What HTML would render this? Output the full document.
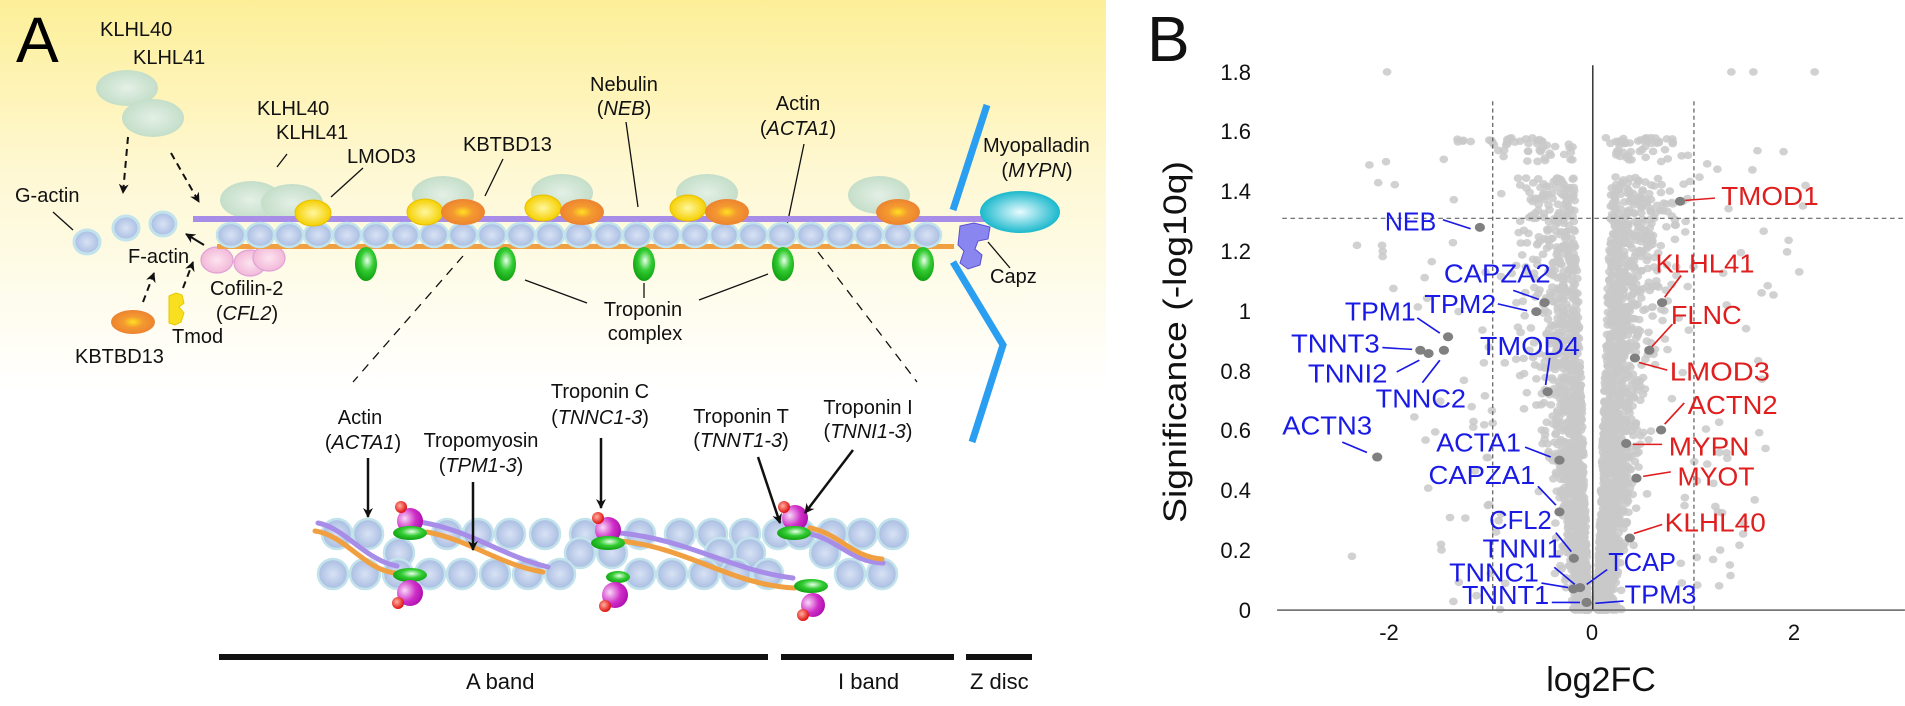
<!DOCTYPE html>
<html><head><meta charset="utf-8"><style>
html,body{margin:0;padding:0;background:#fff;width:1905px;height:706px;overflow:hidden}
svg{display:block}
text{font-family:"Liberation Sans",Arial,sans-serif}
</style></head><body>
<svg id="s" width="1905" height="706" viewBox="0 0 1905 706" xmlns="http://www.w3.org/2000/svg">
<defs>
<linearGradient id="bg" x1="0" y1="0" x2="0" y2="1">
<stop offset="0" stop-color="#fdef98"/><stop offset="0.45" stop-color="#fef8d4"/><stop offset="1" stop-color="#ffffff"/></linearGradient>
<radialGradient id="bead" cx="0.5" cy="0.5" r="0.5"><stop offset="0" stop-color="#d8e2f4"/><stop offset="1" stop-color="#a9bde2"/></radialGradient>
<radialGradient id="grn" cx="0.5" cy="0.5" r="0.5"><stop offset="0" stop-color="#e4f0e6"/><stop offset="1" stop-color="#c4dec9"/></radialGradient>
<radialGradient id="yel" cx="0.5" cy="0.5" r="0.5"><stop offset="0" stop-color="#fff7a0"/><stop offset="1" stop-color="#f5d000"/></radialGradient>
<radialGradient id="org" cx="0.5" cy="0.5" r="0.5"><stop offset="0" stop-color="#ffe020"/><stop offset="0.45" stop-color="#f49a30"/><stop offset="1" stop-color="#ec8330"/></radialGradient>
<radialGradient id="tn" cx="0.55" cy="0.4" r="0.6"><stop offset="0" stop-color="#e8ffe8"/><stop offset="0.5" stop-color="#33cc33"/><stop offset="1" stop-color="#10a010"/></radialGradient>
<radialGradient id="cy" cx="0.5" cy="0.5" r="0.5"><stop offset="0" stop-color="#e8fbff"/><stop offset="1" stop-color="#1ab8cc"/></radialGradient>
<radialGradient id="pk" cx="0.5" cy="0.5" r="0.5"><stop offset="0" stop-color="#fde4f0"/><stop offset="1" stop-color="#f2b8d8"/></radialGradient>
<radialGradient id="mg" cx="0.3" cy="0.4" r="0.7"><stop offset="0" stop-color="#f8d8f8"/><stop offset="0.6" stop-color="#d030c8"/><stop offset="1" stop-color="#b010b0"/></radialGradient>
<radialGradient id="rd" cx="0.4" cy="0.4" r="0.6"><stop offset="0" stop-color="#ffb0a0"/><stop offset="1" stop-color="#e01010"/></radialGradient>
<marker id="ah" viewBox="0 0 10 10" refX="9" refY="5" markerWidth="5" markerHeight="5" orient="auto"><path d="M0,0 L10,5 L0,10 L3,5 z" fill="#111"/></marker>
<marker id="ah2" viewBox="0 0 10 10" refX="9" refY="5" markerWidth="4" markerHeight="4" orient="auto"><path d="M0,0 L10,5 L0,10 L3,5 z" fill="#111"/></marker>
</defs>

<rect x="0" y="0" width="1106" height="390" fill="url(#bg)"/>
<text x="16" y="62" font-size="64">A</text>

<g font-size="20" fill="#111">
<text x="100" y="36">KLHL40</text>
<text x="133" y="64">KLHL41</text>
<text x="257" y="115">KLHL40</text>
<text x="276" y="139">KLHL41</text>
<text x="347" y="163">LMOD3</text>
<text x="463" y="151">KBTBD13</text>
<text x="590" y="91">Nebulin</text>
<text x="624" y="115" text-anchor="middle">(<tspan font-style="italic">NEB</tspan>)</text>
<text x="798" y="110" text-anchor="middle">Actin</text>
<text x="798" y="135" text-anchor="middle">(<tspan font-style="italic">ACTA1</tspan>)</text>
<text x="983" y="152">Myopalladin</text>
<text x="1037" y="177" text-anchor="middle">(<tspan font-style="italic">MYPN</tspan>)</text>
<text x="990" y="283">Capz</text>
<text x="15" y="202">G-actin</text>
<text x="128" y="263">F-actin</text>
<text x="210" y="295">Cofilin-2</text>
<text x="247" y="320" text-anchor="middle">(<tspan font-style="italic">CFL2</tspan>)</text>
<text x="172" y="343">Tmod</text>
<text x="75" y="363">KBTBD13</text>
<text x="643" y="316" text-anchor="middle">Troponin</text>
<text x="645" y="340" text-anchor="middle">complex</text>
</g>

<g stroke="#111" stroke-width="1.3" fill="none">
<line x1="53" y1="212" x2="73" y2="230"/>
<line x1="287" y1="154" x2="277" y2="167"/>
<line x1="363" y1="168" x2="331" y2="197"/>
<line x1="503" y1="159" x2="485" y2="196"/>
<line x1="626" y1="122" x2="638" y2="207"/>
<line x1="804" y1="144" x2="787" y2="225"/>
<line x1="988" y1="242" x2="1010" y2="268"/>
<line x1="644" y1="283" x2="644" y2="298"/>
<line x1="768" y1="274" x2="699" y2="300"/>
<line x1="525" y1="280" x2="587" y2="303"/>
</g>
<g stroke="#111" stroke-width="1.3" stroke-dasharray="9 7" fill="none">
<line x1="463" y1="256" x2="353" y2="382"/>
<line x1="818" y1="252" x2="917" y2="382"/>
</g>
<g stroke="#111" stroke-width="2" stroke-dasharray="7 5" fill="none">
<line x1="128" y1="137" x2="123" y2="193" marker-end="url(#ah)"/>
<line x1="171" y1="153" x2="199" y2="202" marker-end="url(#ah)"/>
<line x1="143" y1="302" x2="154" y2="273" marker-end="url(#ah)"/>
<line x1="183" y1="288" x2="193" y2="262" marker-end="url(#ah)"/>
</g>
<line x1="204" y1="245" x2="186" y2="234" stroke="#111" stroke-width="2" marker-end="url(#ah)"/>

<ellipse cx="127" cy="88" rx="31" ry="18" fill="url(#grn)"/>
<ellipse cx="153" cy="118" rx="31" ry="19" fill="url(#grn)"/>
<g fill="url(#bead)" stroke="#c2e3ec" stroke-width="3">
<ellipse cx="87" cy="242" rx="13" ry="12"/><ellipse cx="126" cy="228" rx="13" ry="12"/><ellipse cx="163" cy="224" rx="13" ry="12"/>
</g>
<g fill="url(#pk)" stroke="#e0a0d8" stroke-width="1.2">
<ellipse cx="217" cy="260" rx="16" ry="13"/><ellipse cx="250" cy="263" rx="16" ry="13"/><ellipse cx="269" cy="258" rx="16" ry="13"/></g>
<ellipse cx="133" cy="322" rx="22" ry="12" fill="url(#org)"/>
<path d="M169,296 l7,-3 l6,2 l2,8 l-5,4 l5,6 l-3,9 l-6,3 l-6,-2 z" fill="#f8e020" stroke="#e8c800" stroke-width="1"/>

<g fill="url(#grn)">
<ellipse cx="251" cy="200" rx="31" ry="19"/><ellipse cx="292" cy="203" rx="31" ry="19"/>
<ellipse cx="443" cy="195" rx="31" ry="19"/><ellipse cx="562" cy="193" rx="31" ry="19"/>
<ellipse cx="707" cy="193" rx="31" ry="19"/><ellipse cx="879" cy="195" rx="31" ry="19"/>
</g>
<rect x="193" y="216" width="797" height="6" fill="#a88de8"/>
<rect x="217" y="244" width="737" height="5" fill="#f0a040"/>
<g id="beads" fill="url(#bead)" stroke="#c2e3ec" stroke-width="2.5"></g>
<g stroke="#e8c000" stroke-width="1" fill="url(#yel)">
<ellipse cx="313" cy="213" rx="18" ry="13"/><ellipse cx="425" cy="212" rx="18" ry="13"/>
<ellipse cx="543" cy="208" rx="18" ry="13"/><ellipse cx="688" cy="208" rx="18" ry="13"/></g>
<g fill="url(#org)">
<ellipse cx="463" cy="212" rx="22" ry="13"/><ellipse cx="582" cy="212" rx="22" ry="13"/>
<ellipse cx="727" cy="212" rx="22" ry="13"/><ellipse cx="898" cy="212" rx="22" ry="13"/></g>
<g fill="url(#tn)">
<ellipse cx="366" cy="264" rx="11" ry="17"/><ellipse cx="505" cy="264" rx="11" ry="17"/>
<ellipse cx="644" cy="264" rx="11" ry="17"/><ellipse cx="783" cy="264" rx="11" ry="17"/><ellipse cx="923" cy="264" rx="11" ry="17"/></g>

<g stroke="#2a9ef0" stroke-width="7" fill="none" stroke-linejoin="miter">
<line x1="987" y1="105" x2="953" y2="210"/>
<polyline points="953,262 1003,345 972,442"/>
</g>
<ellipse cx="1020" cy="212" rx="40" ry="21" fill="url(#cy)"/>
<path d="M960,226 l14,-3 l16,4 l-2,12 l-10,2 l-3,8 l7,6 l-2,10 l-12,4 l-8,-6 l4,-12 l-6,-6 z" fill="#8a86f0" stroke="#5a50d0" stroke-width="1"/>

<g id="beads2" fill="url(#bead)" stroke="#c2e3ec" stroke-width="2.5"></g>
<g fill="none" stroke-width="5" stroke-linecap="round">
<path d="M318,523 C345,528 365,560 397,566" stroke="#a88de8"/>
<path d="M315,531 C345,535 365,570 395,573" stroke="#f0a040"/>
<path d="M420,522 C470,530 500,555 548,567" stroke="#a88de8"/>
<path d="M427,532 C470,540 500,565 543,572" stroke="#f0a040"/>
<path d="M620,533 C690,540 730,570 793,578" stroke="#a88de8"/>
<path d="M620,541 C690,548 730,585 795,588" stroke="#f0a040"/>
<path d="M807,533 C840,540 850,562 883,563" stroke="#a88de8"/>
<path d="M810,528 C840,534 852,557 882,559" stroke="#f0a040"/>
</g>
<g>
<circle cx="410" cy="521" r="13" fill="url(#mg)"/><circle cx="401" cy="507" r="6" fill="url(#rd)"/><ellipse cx="410" cy="533" rx="17" ry="7" fill="url(#tn)"/>
<ellipse cx="410" cy="575" rx="17" ry="7" fill="url(#tn)"/><circle cx="410" cy="593" r="13" fill="url(#mg)"/><circle cx="398" cy="603" r="6" fill="url(#rd)"/>
<circle cx="608" cy="530" r="13" fill="url(#mg)"/><circle cx="598" cy="518" r="6" fill="url(#rd)"/><ellipse cx="608" cy="543" rx="17" ry="7" fill="url(#tn)"/>
<ellipse cx="618" cy="577" rx="12" ry="6" fill="url(#tn)"/><circle cx="615" cy="595" r="13" fill="url(#mg)"/><circle cx="605" cy="606" r="6" fill="url(#rd)"/>
<circle cx="795" cy="518" r="13" fill="url(#mg)"/><circle cx="784" cy="507" r="6" fill="url(#rd)"/><ellipse cx="794" cy="533" rx="17" ry="7" fill="url(#tn)"/>
<ellipse cx="811" cy="586" rx="17" ry="7" fill="url(#tn)"/><circle cx="813" cy="605" r="12" fill="url(#mg)"/><circle cx="803" cy="615" r="6" fill="url(#rd)"/>
</g>
<g font-size="20" fill="#111" text-anchor="middle">
<text x="360" y="424">Actin</text><text x="363" y="449">(<tspan font-style="italic">ACTA1</tspan>)</text>
<text x="481" y="447">Tropomyosin</text><text x="481" y="472">(<tspan font-style="italic">TPM1-3</tspan>)</text>
<text x="600" y="398">Troponin C</text><text x="600" y="424">(<tspan font-style="italic">TNNC1-3</tspan>)</text>
<text x="741" y="423">Troponin T</text><text x="741" y="447">(<tspan font-style="italic">TNNT1-3</tspan>)</text>
<text x="868" y="414">Troponin I</text><text x="868" y="438">(<tspan font-style="italic">TNNI1-3</tspan>)</text>
</g>
<g stroke="#111" stroke-width="2.5" fill="none">
<line x1="368" y1="458" x2="368" y2="517" marker-end="url(#ah2)"/>
<line x1="473" y1="482" x2="473" y2="550" marker-end="url(#ah2)"/>
<line x1="601" y1="438" x2="601" y2="508" marker-end="url(#ah2)"/>
<line x1="758" y1="457" x2="780" y2="523" marker-end="url(#ah2)"/>
<line x1="853" y1="450" x2="805" y2="513" marker-end="url(#ah2)"/>
</g>
<g fill="#111">
<rect x="219" y="654" width="549" height="6"/><rect x="781" y="654" width="173" height="6"/><rect x="966" y="654" width="66" height="6"/>
</g>
<g font-size="22" fill="#111">
<text x="466" y="689">A band</text><text x="838" y="689">I band</text><text x="970" y="689">Z disc</text>
</g>

<text x="1147" y="61" font-size="64" fill="#111">B</text>
<text transform="translate(1186,342) rotate(-90)" font-size="32" text-anchor="middle" textLength="362" lengthAdjust="spacingAndGlyphs" fill="#111">Significance (-log10q)</text>
<text x="1601" y="691" font-size="34" text-anchor="middle" fill="#111">log2FC</text>
<g font-size="22" fill="#111" text-anchor="end">
<text x="1251" y="618">0</text><text x="1251" y="558">0.2</text><text x="1251" y="498">0.4</text><text x="1251" y="438">0.6</text>
<text x="1251" y="379">0.8</text><text x="1251" y="319">1</text><text x="1251" y="259">1.2</text><text x="1251" y="199">1.4</text>
<text x="1251" y="139">1.6</text><text x="1251" y="80">1.8</text>
</g>
<g font-size="22" fill="#111" text-anchor="middle">
<text x="1389" y="640">-2</text><text x="1592" y="640">0</text><text x="1794" y="640">2</text>
</g>
<g transform="translate(1100,0) scale(0.51335,0.45025)">
<g id="sc" fill="#c9c9c9" fill-opacity="0.85"></g>
<line x1="960" y1="145" x2="960" y2="1355" stroke="#111" stroke-width="2.5"/>
<line x1="345" y1="1355" x2="1568" y2="1355" stroke="#777" stroke-width="4"/>
<g stroke="#666" stroke-width="2.5" stroke-dasharray="9 7">
<line x1="765" y1="225" x2="765" y2="1355"/><line x1="1157" y1="225" x2="1157" y2="1355"/>
<line x1="355" y1="485" x2="1568" y2="485"/>
</g>
<g id="lab" font-size="58"></g>
</g>
</svg>
<script>
(function(){
var NS="http://www.w3.org/2000/svg";
function el(t,a,p){var e=document.createElementNS(NS,t);for(var k in a)e.setAttribute(k,a[k]);p.appendChild(e);return e;}
var b=document.getElementById('beads');
for(var i=0;i<25;i++)el('ellipse',{cx:231+29*i,cy:235,rx:14,ry:12},b);
var b2=document.getElementById('beads2');
var rowT=[337,368,447,478,510,545,585,640,680,712,745,778,800,832,862,893];
var rowB=[333,365,398,430,462,495,528,560,640,672,704,736,768,850,882];
var rowM=[399,580,612,720,750,825];
rowT.forEach(function(x){el('circle',{cx:x,cy:534,r:15},b2);});
rowM.forEach(function(x){el('circle',{cx:x,cy:553,r:15},b2);});
rowB.forEach(function(x){el('circle',{cx:x,cy:574,r:15},b2);});
var seed=12345;function R(){seed=(seed*1103515245+12345)%2147483648;return seed/2147483648;}
function N(){return Math.sqrt(-2*Math.log(R()+1e-9))*Math.cos(2*Math.PI*R());}
var sc=document.getElementById('sc');
function X(v){return 960+v*195.5;}function Y(v){return 1355-v*664;}
function pt(x,y){el('circle',{cx:X(x).toFixed(1),cy:Y(y).toFixed(1),r:8.5},sc);}
for(var i=0;i<3000;i++){
 var y=1.55*Math.pow(R(),1.5);
 var ax=0.04+0.1*y+Math.abs(N())*(0.07+0.17*y);
 var x=(R()<0.55?1:-1)*ax;
 if(y>1.45){ if(R()<0.6) continue; y=1.5+R()*0.07; }
 pt(x,y);
}
for(var i=0;i<22;i++){pt(-1.35+R()*0.85,1.57+ (R()-0.5)*0.02);pt(0.1+R()*0.75,1.57+(R()-0.5)*0.02);}
for(var i=0;i<110;i++){var yy=R()*1.55;pt((R()<0.5?-1:1)*(0.8+R()*1.2*(0.5+yy*0.5)),yy);}
pt(-2.05,1.8);pt(1.38,1.8);pt(1.6,1.8);pt(2.21,1.8);pt(-2.4,0.18);pt(-2.1,1.22);pt(-2.35,1.22);
var L=[
['NEB','b',555,655,512,740,505,[668,488,722,508]],
['CAPZA2','b',670,878,628,866,672,[805,645,855,665]],
['TPM2','b',632,772,695,850,692,[775,675,832,690]],
['TPM1','b',477,615,712,678,748,[618,706,662,740]],
['TNNT3','b',372,545,783,624,778,[550,772,608,776]],
['TNNI2','b',405,560,850,640,785,[578,826,622,800]],
['TNNC2','b',537,713,905,670,778,[628,850,662,800]],
['TMOD4','b',740,935,788,872,870,[876,795,868,855]],
['ACTN3','b',355,530,965,540,1015,[472,982,520,1005]],
['ACTA1','b',655,820,1003,895,1022,[828,993,878,1015]],
['CAPZA1','b',640,848,1075,895,1137,[853,1080,888,1122]],
['CFL2','b',758,880,1175,923,1240,[888,1183,918,1225]],
['TNNI1','b',745,900,1238,935,1305,[885,1260,925,1298]],
['TNNC1','b',680,855,1292,922,1308,[860,1295,912,1305]],
['TNNT1','b',705,875,1342,948,1338,[880,1338,935,1338]],
['TCAP','b',990,1122,1268,935,1305,[948,1298,988,1265]],
['TPM3','b',1022,1162,1340,948,1338,[965,1340,1020,1335]],
['TMOD1','r',1210,1400,455,1130,447,[1140,445,1198,440]],
['KLHL41','r',1082,1275,605,1095,672,[1100,660,1132,612]],
['FLNC','r',1112,1250,720,1070,778,[1075,770,1115,720]],
['LMOD3','r',1110,1305,845,1042,795,[1050,805,1105,822]],
['ACTN2','r',1145,1320,920,1093,955,[1100,942,1138,895]],
['MYPN','r',1108,1265,1012,1025,985,[1038,987,1095,987]],
['MYOT','r',1125,1275,1078,1045,1062,[1058,1058,1112,1048]],
['KLHL40','r',1100,1297,1180,1032,1195,[1040,1185,1095,1165]]];
var lab=document.getElementById('lab');
L.forEach(function(a){var c=a[1]=='b'?'#1a1ae6':'#e01e1e';var l=a[7];
 el('line',{x1:l[0],y1:l[1],x2:l[2],y2:l[3],stroke:c,'stroke-width':3.5},lab);
 el('circle',{cx:a[5],cy:a[6],r:10,fill:'#808080'},lab);});
L.forEach(function(a){var c=a[1]=='b'?'#1a1ae6':'#e01e1e';
 var t=el('text',{x:a[2],y:a[4],fill:c,textLength:(a[3]-a[2]),lengthAdjust:'spacingAndGlyphs'},lab);t.textContent=a[0];});
})();
</script>
</body></html>
